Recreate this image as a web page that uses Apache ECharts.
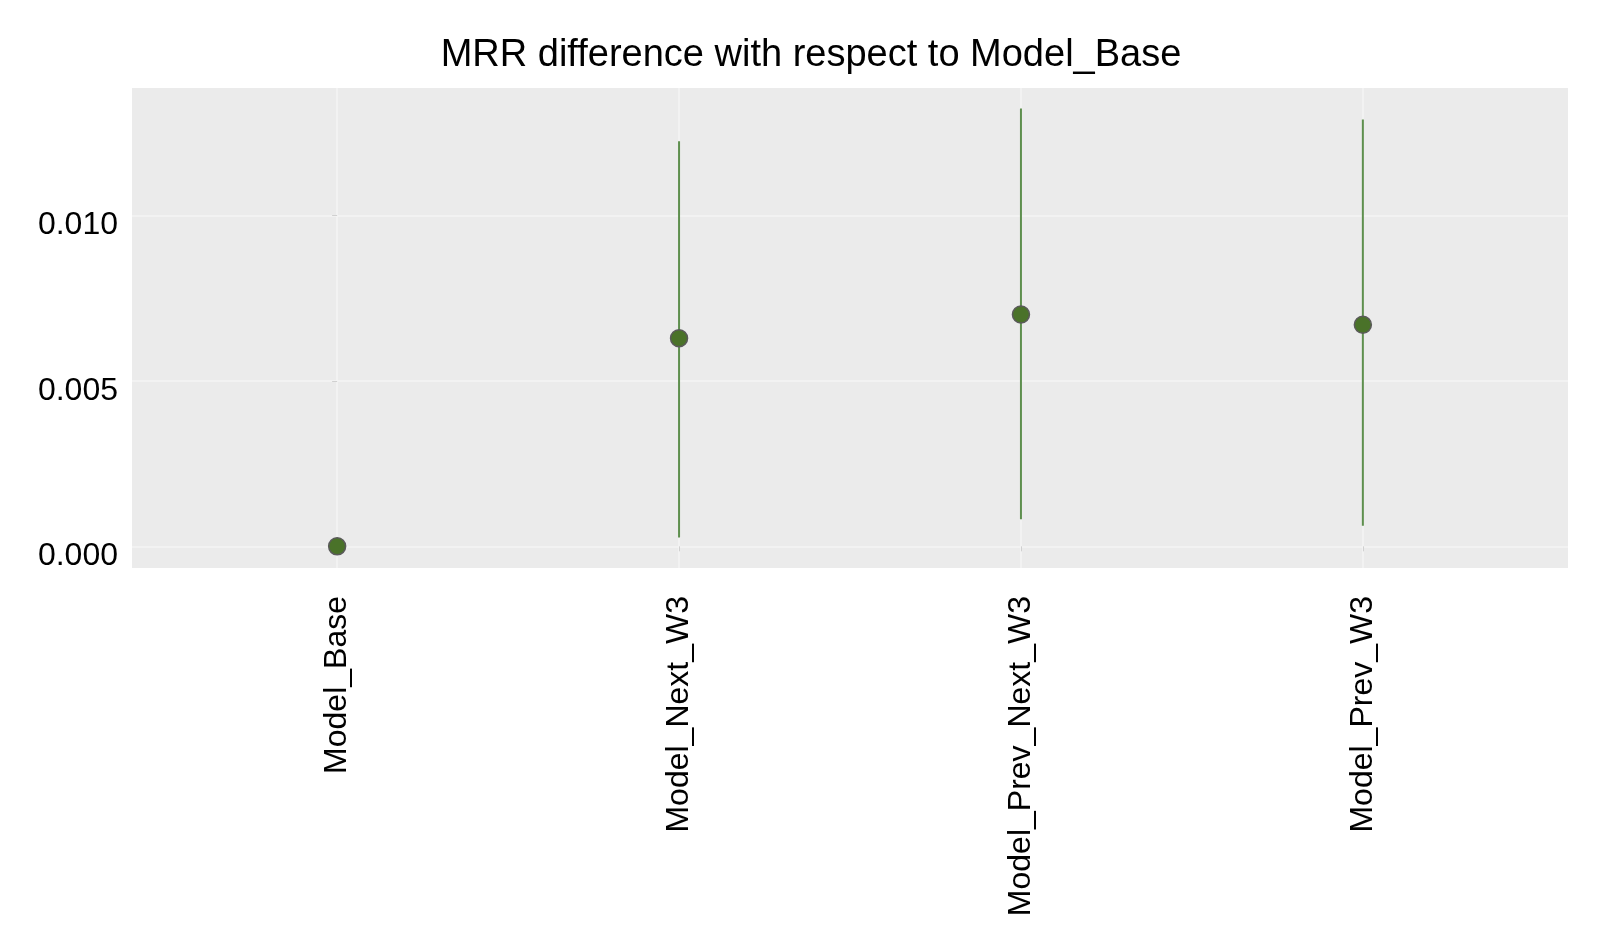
<!DOCTYPE html>
<html>
<head>
<meta charset="utf-8">
<script src="https://cdn.jsdelivr.net/npm/echarts@6/dist/echarts.min.js"></script>
<style>
  html, body { margin: 0; padding: 0; background: #ffffff; }
  #chart { width: 1604px; height: 948px; }
</style>
</head>
<body>
<div id="chart"></div>
<script>
// models and MRR difference vs Model_Base (point estimate + interval)
var models = ['Model_Base', 'Model_Next_W3', 'Model_Prev_Next_W3', 'Model_Prev_W3'];
var mrrDiff = [0.0, 0.00629, 0.00701, 0.00670];
var lowerCI = [0.0, 0.00027, 0.00082, 0.00062];
var upperCI = [0.0, 0.01225, 0.01324, 0.01291];
var yTicks = [0.000, 0.005, 0.010];
var xTicks = [0, 1, 2, 3];

var chart = echarts.init(document.getElementById('chart'));

var pointData = models.map(function (m, i) { return [i, mrrDiff[i]]; });
var barData = models.map(function (m, i) { return [i, lowerCI[i], upperCI[i]]; });

var gridColor = '#f4f4f4';
var font = 'Liberation Sans, Arial, sans-serif';

chart.setOption({
    backgroundColor: '#ffffff',
    title: {
        text: 'MRR difference with respect to Model_Base',
        left: 806,
        top: 32,
        textAlign: 'center',
        textStyle: { fontFamily: font, fontSize: 38, fontWeight: 'normal', color: '#000' }
    },
    grid: {
        left: 132, right: 36, top: 88, bottom: 380,
        show: true, backgroundColor: '#ebebeb', borderWidth: 0
    },
    xAxis: {
        type: 'value',
        min: -0.6,
        max: 3.6,
        axisLine: { show: false },
        axisTick: { show: true, customValues: xTicks, length: 5, lineStyle: { color: '#d0d0d0', width: 1 } },
        axisLabel: {
            customValues: xTicks,
            rotate: 90,
            margin: 28,
            fontFamily: font,
            fontSize: 32,
            color: '#000',
            formatter: function (v) { return models[v]; }
        },
        splitLine: { show: true, lineStyle: { color: gridColor, width: 1.5 } }
    },
    yAxis: {
        type: 'value',
        min: -0.000655,
        max: 0.01386,
        axisLine: { show: false },
        axisTick: { show: true, customValues: yTicks, length: 5, lineStyle: { color: '#d0d0d0', width: 1 } },
        axisLabel: {
            customValues: yTicks,
            margin: 14,
            verticalAlign: 'middle',
            formatter: function (v) { return '{v|' + v.toFixed(3) + '}'; },
            rich: {
                v: { fontFamily: font, fontSize: 32, color: '#000', padding: [20, 0, 0, 0] }
            }
        },
        splitLine: { show: true, lineStyle: { color: gridColor, width: 1.5 } }
    },
    series: [
        {
            type: 'custom',
            silent: true,
            data: barData,
            renderItem: function (params, api) {
                var lo = api.coord([api.value(0), api.value(1)]);
                var hi = api.coord([api.value(0), api.value(2)]);
                return {
                    type: 'line',
                    shape: { x1: lo[0], y1: lo[1], x2: hi[0], y2: hi[1] },
                    style: { stroke: '#5e8f4e', lineWidth: 2 }
                };
            },
            z: 2
        },
        {
            type: 'scatter',
            data: pointData,
            symbol: 'circle',
            symbolSize: 17,
            itemStyle: { color: '#4a7229', opacity: 1, borderColor: '#5a5a5a', borderWidth: 1.5 },
            z: 3
        }
    ]
});
</script>
</body>
</html>
